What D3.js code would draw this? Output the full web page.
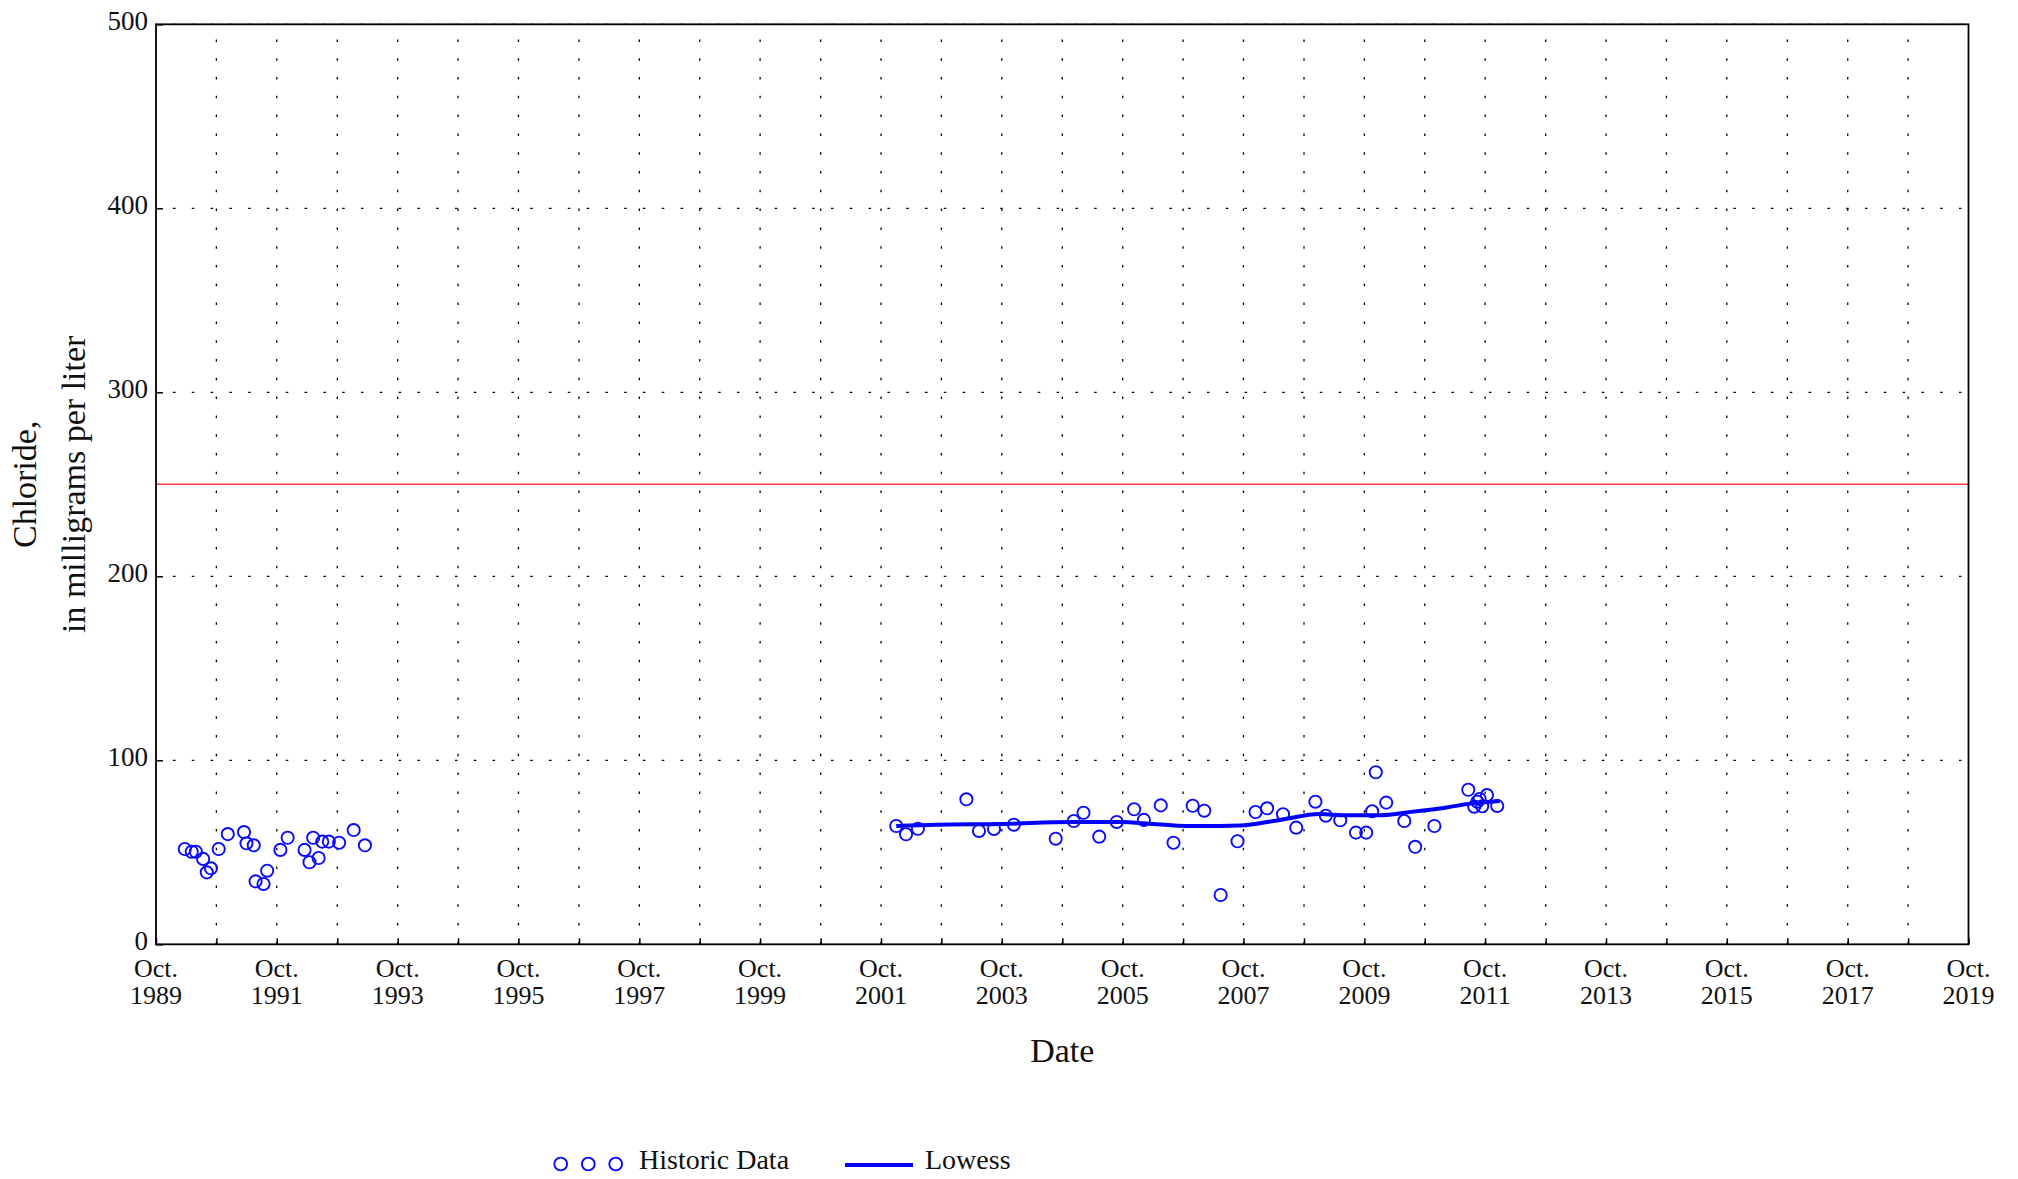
<!DOCTYPE html>
<html>
<head>
<meta charset="utf-8">
<script src="https://cdn.jsdelivr.net/npm/d3@7"></script>
<style>
  html, body { margin: 0; padding: 0; background: #fff; }
  svg { display: block; }
  text { font-family: "Liberation Serif", "DejaVu Serif", serif; fill: #111; }
</style>
</head>
<body>
<svg id="chart" width="2018" height="1179"></svg>
<script>
// ---------------- DATA ----------------
const historicDates = [
  "1990-03-24","1990-05-05","1990-05-30","1990-07-13","1990-08-04","1990-08-29",
  "1990-10-15","1990-12-09","1991-03-17","1991-04-01","1991-05-15","1991-05-26",
  "1991-07-13","1991-08-04","1991-10-23","1991-12-06","1992-03-17","1992-04-16",
  "1992-05-08","1992-06-10","1992-07-02","1992-08-11","1992-10-12","1993-01-08",
  "1993-03-17",
  "2002-01-01","2002-03-01","2002-05-12","2003-03-01","2003-05-16","2003-08-15",
  "2003-12-13","2004-08-22","2004-12-09","2005-02-06","2005-05-12","2005-08-26",
  "2005-12-09","2006-02-06","2006-05-19","2006-08-04","2006-11-28","2007-02-06",
  "2007-05-16","2007-08-26","2007-12-13","2008-02-21","2008-05-27","2008-08-15",
  "2008-12-09","2009-02-10","2009-05-08","2009-08-11","2009-10-12","2009-11-17",
  "2009-12-09","2010-02-10","2010-05-30","2010-08-04","2010-11-28","2011-06-21",
  "2011-07-27","2011-08-15","2011-08-29","2011-09-13","2011-10-12","2011-12-13"
];
const historicValues = [
  51.8, 50.3, 50.3, 46.4, 39.1, 41.3,
  51.8, 59.9, 61.0, 54.9, 53.8, 34.2,
  32.8, 40.0, 51.3, 57.9, 51.3, 44.6,
  57.9, 46.9, 55.8, 55.8, 55.2, 62.1,
  53.8,
  64.3, 59.8, 62.8, 78.8, 61.6, 62.7,
  65.0, 57.4, 67.0, 71.5, 58.5, 66.5,
  73.4, 67.6, 75.5, 55.2, 75.3, 72.6,
  26.8, 56.0, 71.9, 73.9, 70.7, 63.4,
  77.5, 69.9, 67.4, 60.7, 60.7, 72.3,
  93.5, 77.0, 67.0, 53.0, 64.3, 84.0,
  74.8, 77.5, 79.0, 75.0, 81.1, 75.2
];
const lowessDates = [
  "2002-01-01","2002-09-01","2003-10-07","2004-11-17","2005-09-13","2006-04-06",
  "2006-10-23","2007-05-12","2007-09-09","2008-05-08","2009-01-04","2009-06-13",
  "2010-01-01","2010-07-23","2011-02-10","2011-07-19","2011-12-28"
];
const lowessValues = [
  64.3, 65.0, 65.4, 66.5, 66.5, 65.4,
  64.3, 64.3, 64.5, 67.6, 70.8, 70.1,
  70.1, 72.1, 74.4, 76.6, 77.9
];
const yTickValues = [0, 100, 200, 300, 400, 500];
const yGridValues = [100, 200, 300, 400, 500];
const xTickYears = d3.range(1989, 2020);            // October of each year
const xLabelYears = d3.range(1989, 2020, 2);
const xTickMonthLabel = "Oct.";
const referenceLevel = 250;
const yTitleLines = ["Chloride,", "in milligrams per liter"];
const xTitle = "Date";
const legendLabels = ["Historic Data", "Lowess"];

// ---------------- LAYOUT ----------------
(function () {
const parse = d3.timeParse("%Y-%m-%d");
const pLeft = 156, pRight = 1968.5, pTop = 24.3, pBottom = 944.3;
const svg = d3.select("#chart");

const x = d3.scaleTime()
  .domain([new Date(1989, 9, 1), new Date(2019, 9, 1)])
  .range([pLeft, pRight]);
const y = d3.scaleLinear().domain([0, 500]).range([pBottom, pTop]);

const tickDates = xTickYears.map(yr => new Date(yr, 9, 1));

// Vertical dotted grid
svg.append("g").selectAll("line")
  .data(tickDates.slice(1, -1))
  .join("line")
  .attr("x1", d => x(d)).attr("x2", d => x(d))
  .attr("y1", pBottom).attr("y2", pTop)
  .attr("stroke", "#000").attr("stroke-width", 1.3)
  .attr("stroke-dasharray", "2.5,16.3");

// Horizontal dotted grid
svg.append("g").selectAll("line")
  .data(yGridValues)
  .join("line")
  .attr("x1", pLeft).attr("x2", pRight)
  .attr("y1", d => y(d)).attr("y2", d => y(d))
  .attr("stroke", "#000").attr("stroke-width", 1.3)
  .attr("stroke-dasharray", "2.5,16.3")
  .attr("stroke-dashoffset", -17);

// Reference line (250 mg/L)
svg.append("line")
  .attr("x1", pLeft).attr("x2", pRight)
  .attr("y1", y(referenceLevel)).attr("y2", y(referenceLevel))
  .attr("stroke", "#ff3b3b").attr("stroke-width", 1.5);

// X axis (ticks inward)
const xAxis = d3.axisBottom(x).tickValues(tickDates).tickSize(-6).tickFormat("");
const gx = svg.append("g").attr("transform", `translate(0,${pBottom})`).call(xAxis);
gx.select(".domain").remove();
gx.selectAll(".tick line").attr("stroke", "#000").attr("stroke-width", 1.5);

// X tick labels
const xl = svg.append("g").selectAll("text")
  .data(xLabelYears.map(yr => new Date(yr, 9, 1)))
  .join("text")
  .attr("x", d => x(d))
  .attr("text-anchor", "middle")
  .style("font-size", "26px");
xl.append("tspan").attr("x", d => x(d)).attr("y", 977).text(xTickMonthLabel);
xl.append("tspan").attr("x", d => x(d)).attr("y", 1004).text(d => d.getFullYear());

// Y axis (ticks inward)
const yAxis = d3.axisLeft(y).tickValues(yTickValues).tickSize(-7).tickFormat("");
const gy = svg.append("g").attr("transform", `translate(${pLeft},0)`).call(yAxis);
gy.select(".domain").remove();
gy.selectAll(".tick line").attr("stroke", "#000").attr("stroke-width", 1.5);

svg.append("g").selectAll("text")
  .data(yTickValues)
  .join("text")
  .attr("x", 148)
  .attr("y", d => y(d) + 5.5)
  .attr("text-anchor", "end")
  .style("font-size", "27px")
  .text(d => d);

// Plot frame
svg.append("rect")
  .attr("x", pLeft).attr("y", pTop)
  .attr("width", pRight - pLeft).attr("height", pBottom - pTop)
  .attr("fill", "none").attr("stroke", "#000").attr("stroke-width", 1.8);

// Lowess line
const lowess = lowessDates.map((d, i) => ({ date: parse(d), value: lowessValues[i] }));
svg.append("path")
  .datum(lowess)
  .attr("fill", "none")
  .attr("stroke", "#0000ff")
  .attr("stroke-width", 4)
  .attr("stroke-linejoin", "round")
  .attr("d", d3.line().x(d => x(d.date)).y(d => y(d.value)).curve(d3.curveMonotoneX));

// Historic data points
const pts = historicDates.map((d, i) => ({ date: parse(d), value: historicValues[i] }));
svg.append("g").selectAll("circle")
  .data(pts)
  .join("circle")
  .attr("cx", d => x(d.date))
  .attr("cy", d => y(d.value))
  .attr("r", 6.1)
  .attr("fill", "none")
  .attr("stroke", "#0a0aff")
  .attr("stroke-width", 1.9);

// Axis titles
const yt = svg.append("text")
  .attr("transform", `translate(0,${(pTop + pBottom) / 2}) rotate(-90)`)
  .attr("text-anchor", "middle")
  .style("font-size", "34px");
yt.append("tspan").attr("x", 0).attr("y", 36).text(yTitleLines[0]);
yt.append("tspan").attr("x", 0).attr("y", 85).text(yTitleLines[1]);

svg.append("text")
  .attr("x", (pLeft + pRight) / 2)
  .attr("y", 1062)
  .attr("text-anchor", "middle")
  .style("font-size", "34px")
  .text(xTitle);

// Legend
const lg = svg.append("g");
lg.selectAll("circle")
  .data([560.7, 588.3, 615.7])
  .join("circle")
  .attr("cx", d => d).attr("cy", 1164).attr("r", 6.4)
  .attr("fill", "none").attr("stroke", "#0a0aff").attr("stroke-width", 1.9);
lg.append("text").attr("x", 639).attr("y", 1169).style("font-size", "28px").text(legendLabels[0]);
lg.append("line")
  .attr("x1", 845).attr("x2", 913).attr("y1", 1165).attr("y2", 1165)
  .attr("stroke", "#0000ff").attr("stroke-width", 3.8);
lg.append("text").attr("x", 925).attr("y", 1169).style("font-size", "28px").text(legendLabels[1]);
})();
</script>
</body>
</html>
